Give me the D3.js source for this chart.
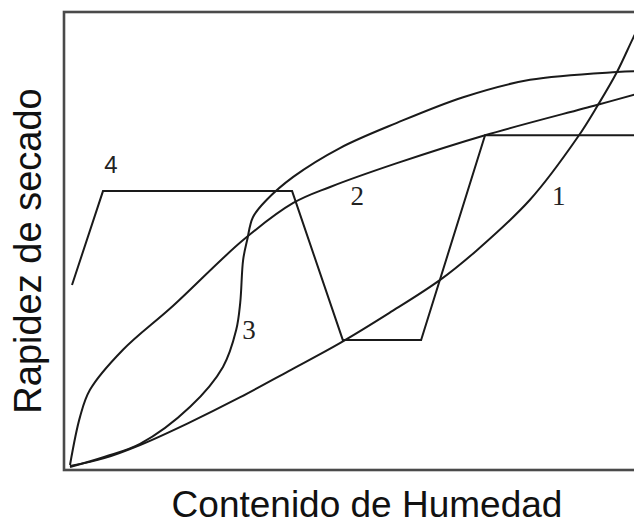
<!DOCTYPE html>
<html>
<head>
<meta charset="utf-8">
<script src="https://cdn.jsdelivr.net/npm/d3@7/dist/d3.min.js"></script>
<style>
html,body{margin:0;padding:0;background:#fff;}
svg{display:block;}
</style>
</head>
<body>
<svg id="chart" width="634" height="526"></svg>
<script>
// Axis titles
const xTitle = "Contenido de Humedad";
const yTitle = "Rapidez de secado";

// Curve data (x: moisture content 0-100, y: drying rate 0-100)
const curve1 = [[1.04,0.87],[7,2.6],[13.2,5.46],[21.5,10.2],[30.6,15.9],[39,21.6],[47.9,27.7],[56.5,34.3],[65.3,41.5],[71.7,48.0],[80.9,59.0],[89.2,72.7],[92.7,79.7],[96.0,86.9],[98.8,94.3],[100,97.2]];
const curve2 = [[1.04,1.09],[2.78,11.6],[4.51,17.5],[10.2,26.2],[18.9,35.8],[31.1,50.2],[39.8,58.3],[46.2,61.8],[57.8,67.0],[73.1,73.1],[92.5,79.7],[100,82.3]];
const curve3 = [[1.04,0.66],[7.1,2.9],[13.2,5.7],[21.9,13.8],[27.6,22.5],[29.9,30.6],[30.6,36.6],[31.1,45.9],[31.8,50.2],[32.8,55.2],[35.2,59.0],[39.8,64.0],[47.9,70.3],[57.8,75.8],[69.3,81.4],[80.9,85.2],[96.0,86.9],[100,87.1]];
const curve4 = [[1.39,40.4],[6.77,60.9],[39.6,60.9],[48.4,28.4],[62.0,28.4],[73.1,73.1],[100,73.1]];

// Curve labels
const labelText = ["4","2","1","3"];
const labelX = [8.16,50.9,85.9,32.1];
const labelY = [64.8,57.9,57.9,28.6];

const svg = d3.select("#chart");
const x = d3.scaleLinear().domain([0,100]).range([64,640]);
const y = d3.scaleLinear().domain([0,100]).range([470,12]);

// frame
svg.append("rect")
  .attr("x", x(0)).attr("y", y(100))
  .attr("width", x(100)-x(0)+20).attr("height", y(0)-y(100))
  .attr("fill","none").attr("stroke","#4a4a4a").attr("stroke-width",2.6);

const smooth = d3.line().x(d=>x(d[0])).y(d=>y(d[1])).curve(d3.curveCatmullRom.alpha(0.5));
const poly = d3.line().x(d=>x(d[0])).y(d=>y(d[1]));

[curve1, curve2, curve3].forEach(c => {
  svg.append("path").attr("d", smooth(c))
    .attr("fill","none").attr("stroke","#1a1a1a").attr("stroke-width",2);
});
svg.append("path").attr("d", poly(curve4))
  .attr("fill","none").attr("stroke","#1a1a1a").attr("stroke-width",2)
  .attr("stroke-linejoin","miter");

labelText.forEach((t,i) => {
  svg.append("text")
    .attr("x", x(labelX[i])).attr("y", y(labelY[i]))
    .attr("text-anchor","middle")
    .attr("font-family", i===0 ? "Liberation Sans, Arial, sans-serif" : "Liberation Serif, Times New Roman, serif")
    .attr("font-size", i===0 ? 24 : 27)
    .attr("fill", "#222")
    .text(t);
});

// axis titles
svg.append("text")
  .attr("x", 367).attr("y", 517)
  .attr("text-anchor","middle")
  .attr("font-family","Liberation Sans, Arial, sans-serif")
  .attr("font-size",37).attr("fill","#111")
  .text(xTitle);

svg.append("text")
  .attr("transform","translate(41,251) rotate(-90)")
  .attr("text-anchor","middle")
  .attr("font-family","Liberation Sans, Arial, sans-serif")
  .attr("font-size",38).attr("fill","#111")
  .text(yTitle);
</script>
</body>
</html>
